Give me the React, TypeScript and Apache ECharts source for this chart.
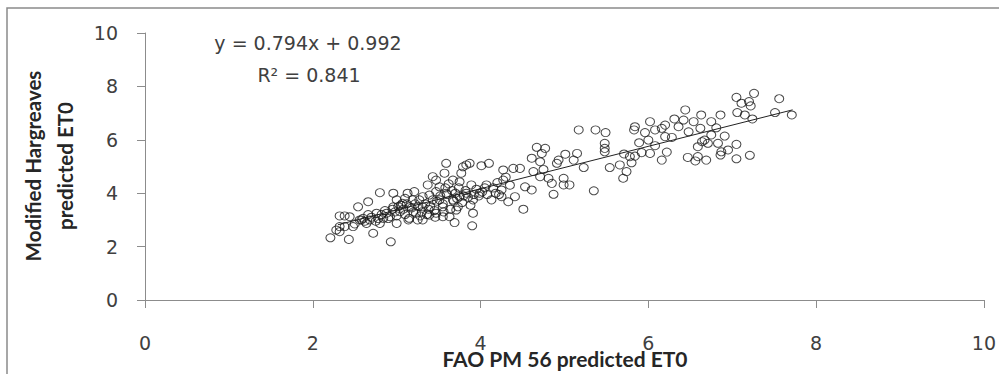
import React, { useEffect, useRef } from "react";
import * as echarts from "echarts";

const xTicks = [0, 2, 4, 6, 8, 10];
const yTicks = [0, 2, 4, 6, 8, 10];
const xTitle = "FAO PM 56 predicted ET0";
const yTitleLines = ["Modified Hargreaves", "predicted ET0"];
const equationText = "y = 0.794x + 0.992";
const r2Text = "R\u00b2 = 0.841";
const slope = 0.794;
const intercept = 0.992;
const trendRange = [2.3, 7.72];

const pointsLeft: number[][] = [
  [2.21, 2.33], [2.43, 2.27], [2.32, 2.56], [2.32, 2.75], [2.38, 2.75], [2.32, 3.15], [2.38, 3.15],
  [2.48, 2.75], [2.54, 3.49], [2.72, 2.5], [2.93, 2.18], [2.8, 4.02], [2.96, 4.0], [2.66, 3.68],
  [2.6, 3.06], [2.64, 2.87], [2.8, 2.87], [3.0, 2.87], [2.88, 3.25], [2.76, 3.25], [2.96, 3.49],
  [3.0, 3.75], [3.07, 3.62], [3.13, 4.0], [3.21, 4.06], [3.15, 3.06], [3.25, 3.0], [3.23, 3.25],
  [3.15, 3.49], [3.31, 3.49], [3.37, 4.31], [3.43, 4.62], [3.47, 4.49], [3.59, 5.12], [3.57, 4.75],
  [3.51, 4.24], [3.43, 3.75], [3.39, 3.18], [3.47, 3.25], [3.55, 3.49], [3.67, 3.75], [3.69, 2.9],
  [3.73, 3.49], [3.71, 3.37], [3.75, 3.87], [3.67, 4.49], [3.75, 4.43], [3.79, 4.99], [3.83, 5.06],
  [3.87, 5.12], [3.77, 4.75], [3.89, 4.31], [3.91, 3.25], [3.9, 2.78], [3.99, 4.0], [4.01, 5.03],
  [4.1, 5.12], [4.13, 3.75], [4.07, 4.31], [3.83, 4.0], [3.91, 3.75], [3.59, 4.0], [3.39, 3.93],
  [3.27, 3.75], [3.19, 3.75], [3.04, 3.31], [2.92, 3.12], [2.84, 3.06], [2.68, 3.0], [2.56, 3.0],
  [2.44, 3.12], [2.28, 2.62], [3.1, 3.81], [3.31, 3.87], [3.47, 4.06], [3.51, 3.75], [3.55, 3.12],
  [3.63, 3.12], [3.31, 3.0],
];

const pointsDense: number[][] = [
  [2.62, 2.95], [2.7, 3.1], [2.75, 2.95], [2.82, 3.2], [2.86, 3.35], [2.9, 3.05], [2.95, 3.4],
  [2.98, 3.3], [3.02, 3.5], [3.05, 3.55], [3.08, 3.4], [3.1, 3.2], [3.12, 3.6], [3.18, 3.45],
  [3.2, 3.3], [3.22, 3.6], [3.26, 3.5], [3.3, 3.3], [3.34, 3.6], [3.36, 3.2], [3.4, 3.5],
  [3.45, 3.35], [3.48, 3.7], [3.52, 3.9], [3.55, 3.6], [3.58, 4.2], [3.6, 3.95], [3.62, 4.35],
  [3.64, 3.4], [3.66, 4.1], [3.7, 4.0], [3.72, 3.8], [3.74, 4.2], [3.78, 3.65], [3.8, 3.9],
  [3.82, 4.1], [3.85, 3.85], [3.88, 3.55], [3.92, 3.95], [3.95, 4.15], [3.98, 3.9], [4.02, 4.05],
  [4.05, 4.2], [4.08, 3.95], [2.5, 2.85], [2.58, 3.0], [2.66, 3.2], [2.78, 3.05], [3.0, 3.15],
  [3.14, 3.0], [3.28, 3.15], [3.38, 3.4], [3.46, 3.1], [3.56, 3.3], [3.68, 3.7],
  [4.15, 4.2], [4.2, 4.4], [4.3, 4.6], [4.22, 3.95], [4.35, 4.3], [4.18, 4.0],
];

const pointsRight: number[][] = [
  [7.26, 7.74], [7.05, 7.59], [7.56, 7.54], [7.11, 7.37], [7.22, 7.27], [7.2, 7.43], [7.06, 7.02],
  [7.15, 6.93], [7.24, 6.78], [7.51, 7.02], [7.71, 6.93], [6.86, 6.93], [6.44, 7.12], [6.31, 6.78],
  [6.42, 6.74], [6.63, 6.93], [6.54, 6.68], [6.75, 6.68], [6.81, 6.45], [6.62, 6.43], [6.48, 6.3],
  [6.36, 6.49], [6.91, 6.14], [6.75, 6.18], [6.67, 5.99], [6.71, 5.87], [6.64, 5.93], [6.83, 5.87],
  [7.05, 5.83], [6.59, 5.74], [6.95, 5.62], [6.87, 5.55], [6.86, 5.43], [7.21, 5.42], [7.05, 5.29],
  [6.47, 5.34], [6.59, 5.37], [6.56, 5.21], [6.69, 5.24], [6.2, 6.55], [6.16, 6.43], [6.02, 6.68],
  [5.84, 6.49], [5.83, 6.37], [5.96, 6.27], [6.08, 6.37], [6.2, 6.12], [6.28, 6.09], [5.89, 5.89],
  [6.0, 5.99], [6.08, 5.78], [5.92, 5.52], [6.02, 5.49], [6.22, 5.54], [6.16, 5.24], [5.84, 5.39],
  [5.78, 5.37], [5.71, 5.47], [5.8, 5.14], [5.74, 4.81], [5.7, 4.56], [5.66, 5.06], [5.54, 4.96],
  [5.49, 6.27], [5.37, 6.37], [5.17, 6.37], [5.48, 5.87], [5.48, 5.68], [5.48, 5.55], [5.23, 4.96],
  [5.35, 4.09], [5.15, 5.49], [5.11, 5.24], [5.01, 5.46], [4.93, 5.24], [4.91, 5.12], [4.77, 5.68],
  [4.67, 5.72], [4.73, 5.49], [4.61, 5.31], [4.71, 5.18], [4.75, 4.89], [4.63, 4.81], [4.81, 4.56],
  [4.85, 4.37], [4.87, 3.96], [4.99, 4.56], [4.99, 4.31], [5.06, 4.31], [4.71, 4.62], [4.53, 4.24],
  [4.61, 4.12], [4.51, 3.4], [4.41, 3.87], [4.33, 3.68], [4.47, 4.93], [4.39, 4.93], [4.27, 4.87],
  [4.27, 4.49], [4.25, 4.12], [4.25, 3.87],
];

export default function App() {
  const ref = useRef<HTMLDivElement>(null);
  useEffect(() => {
    if (!ref.current) return;
    const chart = echarts.init(ref.current, null, { renderer: "svg" });
    const numFont = "'DejaVu Sans', sans-serif";
    const titleFont = "Lato, 'Open Sans', sans-serif";
    const trend = trendRange.map((x) => [x, slope * x + intercept]);
    const scatterData = [...pointsLeft, ...pointsDense, ...pointsRight];
    chart.setOption({
      animation: false,
      backgroundColor: "#ffffff",
      grid: { left: 145, right: 15, top: 33, bottom: 74 },
      xAxis: {
        type: "value",
        min: xTicks[0],
        max: xTicks[xTicks.length - 1],
        interval: 2,
        splitLine: { show: false },
        axisLine: { lineStyle: { color: "#8c8c8c", width: 1 } },
        axisTick: { show: true, length: 8, lineStyle: { color: "#8c8c8c" } },
        axisLabel: { color: "#404040", fontSize: 19, fontFamily: numFont, margin: 33 },
      },
      yAxis: {
        type: "value",
        min: yTicks[0],
        max: yTicks[yTicks.length - 1],
        interval: 2,
        splitLine: { show: false },
        axisLine: { show: true, lineStyle: { color: "#8c8c8c", width: 1 } },
        axisTick: { show: true, length: 8, lineStyle: { color: "#8c8c8c" } },
        axisLabel: { color: "#404040", fontSize: 19, fontFamily: numFont, margin: 27 },
      },
      series: [
        {
          type: "scatter",
          data: scatterData,
          symbol: "circle",
          symbolSize: [9, 8],
          itemStyle: { color: "rgba(255,255,255,0)", borderColor: "#1a1a1a", borderWidth: 1 },
          z: 2,
        },
        {
          type: "line",
          data: trend,
          symbol: "none",
          lineStyle: { color: "#222222", width: 1 },
          z: 3,
        },
      ],
      graphic: [
        {
          type: "rect",
          shape: { x: 7, y: 8, width: 1200, height: 600 },
          style: { fill: "none", stroke: "#8a8a8a", lineWidth: 1.5 },
          z: -1,
        },
        {
          type: "text",
          x: 308,
          y: 43,
          style: { text: equationText, fill: "#404040", font: `19px ${numFont}`, align: "center", verticalAlign: "middle" },
        },
        {
          type: "text",
          x: 309,
          y: 75,
          style: { text: r2Text, fill: "#404040", font: `19px ${numFont}`, align: "center", verticalAlign: "middle" },
        },
        {
          type: "text",
          x: 565,
          y: 358,
          style: { text: xTitle, fill: "#262626", font: `bold 21px ${titleFont}`, align: "center", verticalAlign: "middle" },
        },
        {
          type: "text",
          x: 49,
          y: 166,
          rotation: Math.PI / 2,
          style: {
            text: yTitleLines.join("\n"),
            fill: "#262626",
            font: `bold 20.5px ${titleFont}`,
            align: "center",
            verticalAlign: "middle",
            lineHeight: 32,
          },
        },
      ],
    });
    return () => chart.dispose();
  }, []);
  return <div ref={ref} style={{ position: "fixed", left: 0, top: 0, width: 999, height: 374 }} />;
}
